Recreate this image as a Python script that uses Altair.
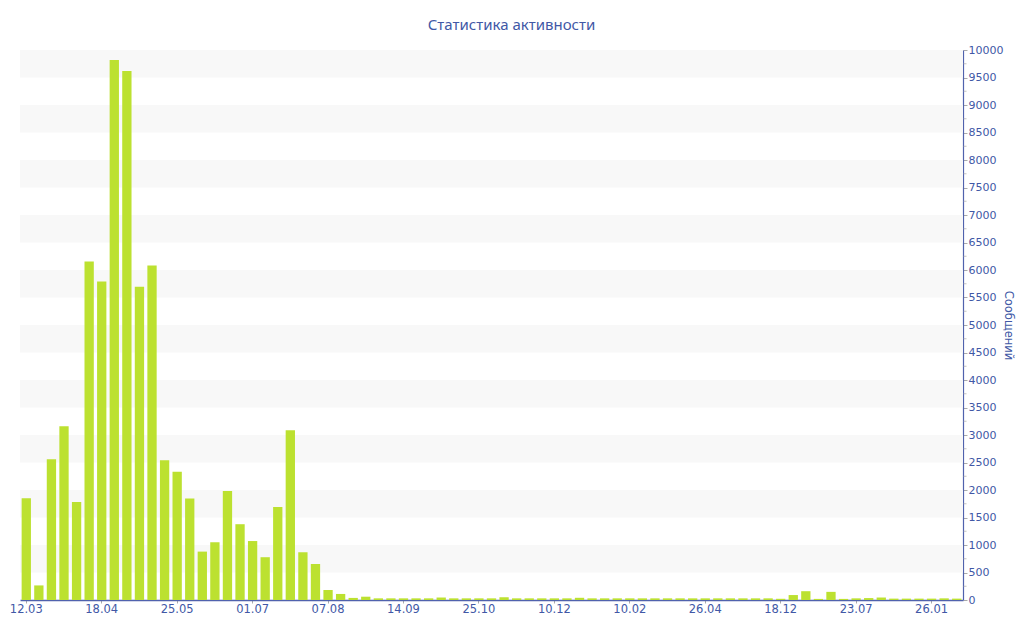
import altair as alt
import pandas as pd

# Weekly message counts (75 periods)
values = [
    1850, 265, 2560, 3160, 1780, 6155, 5790, 9820, 9620, 5695,
    6080, 2540, 2330, 1845, 880, 1050, 1980, 1378, 1072, 778,
    1690, 3085, 868, 655, 182, 110, 38, 60, 30, 30,
    30, 30, 30, 45, 30, 30, 30, 30, 50, 30,
    30, 30, 30, 30, 40, 30, 30, 30, 30, 30,
    30, 30, 30, 30, 30, 30, 30, 30, 30, 30,
    22, 90, 160, 20, 148, 20, 30, 35, 45, 25,
    25, 25, 25, 30, 25,
]
tick_labels = ["12.03", "18.04", "25.05", "01.07", "07.08", "14.09", "25.10",
               "10.12", "10.02", "26.04", "18.12", "23.07", "26.01"]
band_lo = [500, 1500, 2500, 3500, 4500, 5500, 6500, 7500, 8500, 9500]
band_hi = [1000, 2000, 3000, 4000, 5000, 6000, 7000, 8000, 9000, 10000]
minor_ticks = [250 + 500 * i for i in range(20)]
y_ticks = [500 * i for i in range(21)]

W, H = 943, 550
TEXT = "#4158a6"
AXIS = "#5062ad"

df = pd.DataFrame({"idx": list(range(len(values))), "value": values})
bands = pd.DataFrame({"lo": band_lo, "hi": band_hi})
minor = pd.DataFrame({"v": minor_ticks})

yscale = alt.Scale(domain=[0, 10000], nice=False)

label_expr = "[" + ",".join("'%s'" % s for s in tick_labels) + "][floor(datum.value/6)]"

y_axis = alt.Axis(orient="right", values=y_ticks,
                  format="d", labelOverlap=False,
                  title="Сообщений", titleColor=TEXT,
                  titleFont="DejaVu Sans", titleFontSize=11.5,
                  titleFontWeight="normal", titlePadding=0,
                  domainColor=AXIS, domainWidth=1.2,
                  tickColor="#aaaaaa", tickSize=4,
                  labelColor=TEXT, labelFont="DejaVu Sans",
                  labelFontSize=11, labelPadding=1, grid=False)

band_layer = alt.Chart(bands).mark_rect(color="#f8f8f8").encode(
    x=alt.value(0), x2=alt.value(W),
    y=alt.Y("lo:Q", scale=yscale, axis=y_axis),
    y2="hi:Q",
)

bars = alt.Chart(df).mark_bar(color="#bce130").encode(
    x=alt.X("idx:O",
            scale=alt.Scale(paddingInner=0.26, paddingOuter=0.13),
            axis=alt.Axis(values=list(range(0, 75, 6)), labelExpr=label_expr,
                          labelAngle=0, title=None, domainColor=AXIS,
                          domainWidth=1.5, tickColor="#aaaaaa", tickSize=3,
                          labelColor=TEXT, labelFont="DejaVu Sans",
                          labelFontSize=11.5, labelPadding=0, grid=False)),
    y=alt.Y("value:Q", scale=yscale, axis=y_axis),
)

minor_layer = alt.Chart(minor).mark_tick(
    color="#aaaaaa", orient="horizontal", size=3, thickness=1
).encode(
    x=alt.value(W + 2),
    y=alt.Y("v:Q", scale=yscale, axis=y_axis),
)

chart = alt.layer(band_layer, bars, minor_layer).properties(
    width=W, height=H,
    title=alt.TitleParams("Статистика активности", color=TEXT,
                          font="Noto Sans", fontSize=15, fontWeight="normal",
                          anchor="middle", frame="group", dx=20, offset=11),
    autosize=alt.AutoSizeParams(type="none"),
    padding={"left": 12, "top": 42, "right": 53, "bottom": 24},
).configure_view(stroke=None)

chart.save("out.html", embed_options={"renderer": "svg", "actions": False})
